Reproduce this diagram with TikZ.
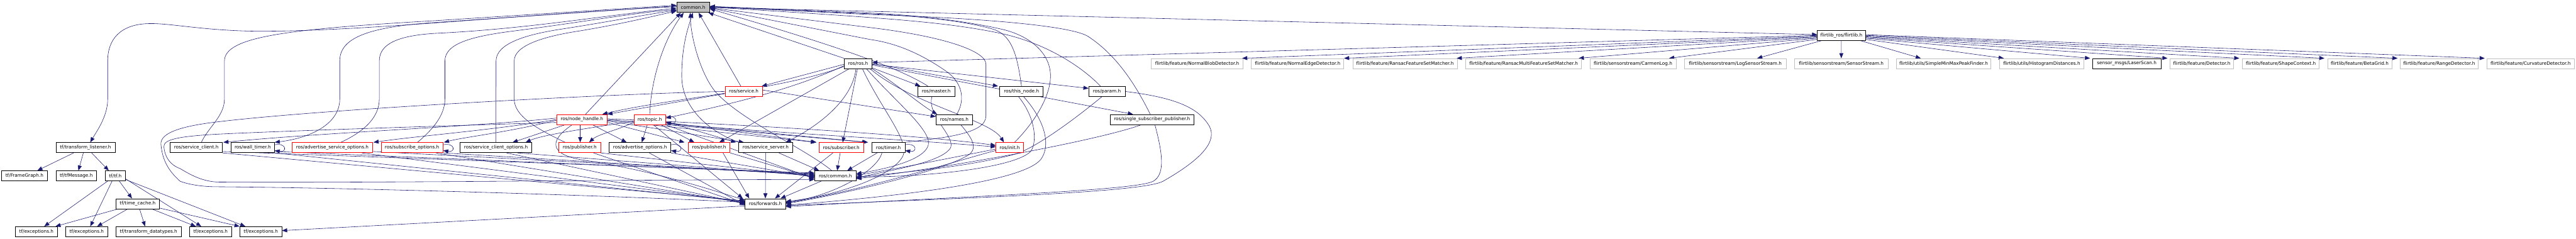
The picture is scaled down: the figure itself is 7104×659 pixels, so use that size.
\documentclass[tikz,border=0pt]{standalone}
\usepackage{fontspec}
\newfontfamily\dv{DejaVu Sans}
\usetikzlibrary{arrows.meta}
\definecolor{edgeblue}{HTML}{191970}
\definecolor{greyb}{HTML}{BFBFBF}
\definecolor{redb}{HTML}{FF0000}
\pgfdeclarelayer{edgelayer}
\pgfsetlayers{edgelayer,main}
\newcommand\lbl{\dv\fontsize{6.35pt}{7.5pt}\selectfont}
\newcommand\nd[6]{\node[#2, minimum width=#5pt] (#1) at (#3,#4) {#6};}
\tikzset{
 nb/.style={draw=black, line width=0.6pt, fill=white, inner sep=0pt, minimum height=14pt, font=\lbl, text=black},
 nr/.style={nb, draw=redb},
 ng/.style={nb, draw=greyb},
 nroot/.style={nb, fill=greyb},
 e/.style={draw=edgeblue, line width=0.5pt, -{Triangle[length=7pt,width=5.5pt]}},
}
\begin{document}
\begin{tikzpicture}[x=0.5pt,y=-0.5pt]
\useasboundingbox (0,0) rectangle (7104,659);
% ---------------- nodes
\nd{common}{nroot}{1911.5}{20.4}{45.5}{common.h}
\nd{flirtlib}{nb}{5078}{97.5}{66}{flirtlib\_ros/flirtlib.h}
\nd{rosros}{nb}{2366.5}{175.3}{38.5}{ros/ros.h}
\nd{nblob}{ng}{3301.5}{175.3}{126.5}{flirtlib/feature/NormalBlobDetector.h}
\nd{nedge}{ng}{3578.5}{175.3}{127.5}{flirtlib/feature/NormalEdgeDetector.h}
\nd{rfsm}{ng}{3874.7}{175.3}{144}{flirtlib/feature/RansacFeatureSetMatcher.h}
\nd{rmulti}{ng}{4201.7}{175.3}{159.5}{flirtlib/feature/RansacMultiFeatureSetMatcher.h}
\nd{carmen}{ng}{4503.3}{175.3}{119}{flirtlib/sensorstream/CarmenLog.h}
\nd{logss}{ng}{4785.3}{175.3}{140}{flirtlib/sensorstream/LogSensorStream.h}
\nd{sstream}{ng}{5077.8}{175.3}{128.5}{flirtlib/sensorstream/SensorStream.h}
\nd{peak}{ng}{5360}{175.3}{130.5}{flirtlib/utils/SimpleMinMaxPeakFinder.h}
\nd{hist}{ng}{5630.5}{175.3}{116}{flirtlib/utils/HistogramDistances.h}
\nd{laser}{nb}{5865}{175.3}{94.5}{sensor\_msgs/LaserScan.h}
\nd{detector}{ng}{6072}{175.3}{88}{flirtlib/feature/Detector.h}
\nd{shape}{ng}{6290}{175.3}{106}{flirtlib/feature/ShapeContext.h}
\nd{beta}{ng}{6507.3}{175.3}{88.5}{flirtlib/feature/BetaGrid.h}
\nd{range}{ng}{6726.5}{175.3}{108}{flirtlib/feature/RangeDetector.h}
\nd{curv}{ng}{6978.8}{175.3}{120}{flirtlib/feature/CurvatureDetector.h}
\nd{service}{nr}{2051}{252.2}{51.25}{ros/service.h}
\nd{master}{nb}{2582}{252.2}{51.5}{ros/master.h}
\nd{thisnode}{nb}{2817}{252.2}{60}{ros/this\_node.h}
\nd{param}{nb}{3052.5}{252.2}{50}{ros/param.h}
\nd{nh}{nr}{1604.8}{329.6}{69.8}{ros/node\_handle.h}
\nd{topic}{nr}{1791.8}{329.6}{43.8}{ros/topic.h}
\nd{names}{nb}{2631.7}{329.6}{50.7}{ros/names.h}
\nd{ssp}{nb}{3177}{329.6}{116}{ros/single\_subscriber\_publisher.h}
\nd{tl}{nb}{235.8}{407.1}{81.5}{tf/transform\_listener.h}
\nd{sclient}{nb}{541.3}{407.1}{72}{ros/service\_client.h}
\nd{wtimer}{nb}{697}{407.1}{60}{ros/wall\_timer.h}
\nd{aso}{nr}{916.5}{407.1}{111}{ros/advertise\_service\_options.h}
\nd{subo}{nr}{1136.3}{407.1}{85.5}{ros/subscribe\_options.h}
\nd{sco}{nb}{1367.7}{407.1}{98.75}{ros/service\_client\_options.h}
\nd{pubA}{nr}{1598.6}{407.1}{57.5}{ros/publisher.h}
\nd{advo}{nb}{1765}{407.1}{85}{ros/advertise\_options.h}
\nd{pubB}{nr}{1955.8}{407.1}{57.5}{ros/publisher.h}
\nd{sserver}{nb}{2111.4}{407.1}{74}{ros/service\_server.h}
\nd{subscr}{nr}{2320}{407.1}{61.5}{ros/subscriber.h}
\nd{timer}{nb}{2450}{407.1}{45.5}{ros/timer.h}
\nd{init}{nr}{2784.5}{407.1}{38}{ros/init.h}
\nd{fgraph}{nb}{67.5}{484.9}{63}{tf/FrameGraph.h}
\nd{tfmsg}{nb}{210.3}{484.9}{56}{tf/tfMessage.h}
\nd{tftf}{nb}{317.8}{484.9}{27.35}{tf/tf.h}
\nd{roscommon}{nb}{2303.8}{484.9}{57.2}{ros/common.h}
\nd{tcache}{nb}{379.6}{561.8}{60}{tf/time\_cache.h}
\nd{fwd}{nb}{2110.7}{561.8}{55.85}{ros/forwards.h}
\nd{excA}{nb}{100.4}{638.9}{58}{tf/exceptions.h}
\nd{excB}{nb}{239}{638.9}{58}{tf/exceptions.h}
\nd{tdt}{nb}{409.7}{638.9}{90}{tf/transform\_datatypes.h}
\nd{excD}{nb}{580.7}{638.9}{58}{tf/exceptions.h}
\nd{excE}{nb}{719.2}{638.9}{58}{tf/exceptions.h}
% ---------------- edges
\begin{pgfonlayer}{edgelayer}
% common out
\draw[e] (common.east) -- ([yshift=1pt]flirtlib.west);
\draw[e] ([yshift=1pt]common.west) .. controls (1450,38) and (1000,88) .. (703,86) .. controls (560,84) and (470,64) .. (413,65) .. controls (330,66) and (297,110) .. (297,168) -- (297,273) .. controls (297,320) and (268,360) .. ([xshift=6.5pt]tl.north);
% flirtlib fan
\draw[e] (flirtlib.west) -- ([yshift=1.5pt]rosros.east);
\draw[e] ([yshift=-1pt]flirtlib.west) -- ([xshift=-1.5pt]nblob.north east);
\draw[e] ([yshift=-2pt]flirtlib.west) -- (nedge.north east);
\draw[e] ([yshift=-3pt]flirtlib.west) -- ([xshift=-1pt]rfsm.north east);
\draw[e] ([yshift=-4pt]flirtlib.west) -- ([xshift=-4pt]rmulti.north east);
\draw[e] ([yshift=-5.5pt]flirtlib.west) -- ([xshift=-10pt]carmen.north east);
\draw[e] ([xshift=6pt]flirtlib.south west) -- ([xshift=-40pt]logss.north east);
\draw[e] (flirtlib.south) -- (sstream.north);
\draw[e] ([xshift=-7pt]flirtlib.south east) -- ([xshift=34pt]peak.north west);
\draw[e] ([yshift=-5.5pt]flirtlib.east) -- ([xshift=6pt]hist.north west);
\draw[e] ([yshift=-4pt]flirtlib.east) -- ([xshift=-3pt]laser.north west);
\draw[e] ([yshift=-3pt]flirtlib.east) -- ([xshift=-3pt]detector.north west);
\draw[e] ([yshift=-2pt]flirtlib.east) -- ([xshift=-4pt]shape.north west);
\draw[e] ([yshift=-1pt]flirtlib.east) -- ([xshift=-4pt]beta.north west);
\draw[e] (flirtlib.east) -- ([xshift=-3pt]range.north west);
\draw[e] ([yshift=1pt]flirtlib.east) -- ([xshift=-3pt]curv.north west);
% tf tree
\draw[e] ([xshift=-16.4pt]tl.south) -- ([xshift=17.75pt]fgraph.north);
\draw[e] ([xshift=-3pt]tl.south) -- ([xshift=3pt]tfmsg.north);
\draw[e] ([xshift=8.5pt]tl.south) -- ([xshift=-9pt]tftf.north);
\draw[e] ([xshift=-10.5pt]tftf.south) -- ([xshift=10.8pt]excA.north);
\draw[e] ([xshift=-4.4pt]tftf.south) -- ([xshift=5pt]excB.north);
\draw[e] ([xshift=5.6pt]tftf.south) -- ([xshift=-7.8pt]tcache.north);
\draw[e] ([yshift=-4pt]tftf.east) -- ([xshift=-12.85pt]excD.north);
\draw[e] ([yshift=-5pt]tftf.east) -- ([xshift=-21.35pt]excE.north);
\draw[e] ([xshift=-27.3pt]tcache.south) -- ([xshift=26.3pt]excA.north);
\draw[e] ([xshift=-13.8pt]tcache.south) -- ([xshift=14.5pt]excB.north);
\draw[e] ([xshift=2.7pt]tcache.south) -- ([xshift=-4.8pt]tdt.north);
\draw[e] ([xshift=19.7pt]tcache.south) -- ([xshift=-20.4pt]excD.north);
\draw[e] ([yshift=-6pt]tcache.east) -- (excE.north west);
\draw[e] ([yshift=-3pt]fwd.west) -- ([yshift=1.5pt]excE.east);
% self loops
\foreach \n in {wtimer,subo,advo,topic,timer}
  \draw[e] ([yshift=4pt]\n.east) .. controls +(34,-6) and +(34,6) .. ([yshift=-4pt]\n.east);
% back edges into common (left)
\draw[e] ([xshift=7pt]sclient.north) .. controls (575,350) and (619,320) .. (619,273) -- (619,168) .. controls (619,100) and (800,80) .. (1200,57) -- ([yshift=3pt]common.west);
\draw[e] ([yshift=2pt]common.west) -- (1200,62) .. controls (1000,75) and (937,110) .. (937,168) -- (937,273) .. controls (937,340) and (860,380) .. (wtimer.north east);
\draw[e] ([xshift=11.75pt]aso.north) .. controls (1010,360) and (1046,320) .. (1046,273) -- (1046,168) .. controls (1046,120) and (1100,98) .. (1200,92) .. controls (1450,80) and (1650,45) .. ([yshift=-1pt]common.west);
\draw[e] ([xshift=7.5pt]subo.north) .. controls (1190,360) and (1227,320) .. (1227,273) -- (1227,168) .. controls (1227,120) and (1300,100) .. (1420,85) .. controls (1600,62) and (1750,35) .. ([yshift=-3pt]common.west);
\draw[e] (sco.north) -- (1368,168) .. controls (1368,120) and (1450,95) .. (1550,80) .. controls (1680,60) and (1780,40) .. ([yshift=-4pt]common.west);
\draw[e] ([xshift=-20pt]pubA.north) .. controls (1480,355) and (1418,320) .. (1418,273) -- (1418,168) .. controls (1418,125) and (1500,100) .. (1600,85) .. controls (1720,65) and (1800,45) .. ([yshift=-5pt]common.west);
\draw[e] ([xshift=5pt]nh.north) -- ([xshift=6pt]common.south west);
\draw[e] (topic.north) .. controls (1795,220) and (1830,110) .. ([xshift=10pt]common.south west);
\draw[e] ([xshift=-4pt]service.north) -- ([xshift=7.5pt]common.south);
\draw[e] ([xshift=-37pt]sserver.north) .. controls (1960,365) and (1880,300) .. (1880,210) .. controls (1880,120) and (1900,70) .. ([xshift=-0.5pt]common.south);
\draw[e] ([xshift=-5pt]roscommon.north) .. controls (2220,410) and (2040,330) .. (1972,252) .. controls (1930,200) and (1905,100) .. ([xshift=-4pt]common.south);
\draw[e] (rosros.north west) -- ([xshift=-2pt]common.south east);
% back edges into common (right)
\draw[e] ([xshift=-11.5pt]master.north) .. controls (2470,180) and (2250,110) .. ([yshift=-2pt]common.east);
\draw[e] ([xshift=3.5pt]names.north) .. controls (2665,270) and (2650,225) .. (2610,197) .. controls (2550,155) and (2480,120) .. (2400,109) -- ([yshift=-1pt]common.east);
\draw[e] (thisnode.north) .. controls (2805,150) and (2790,95) .. (2737,80) .. controls (2650,55) and (2500,42) .. (2400,38) -- ([yshift=1pt]common.east);
\draw[e] ([xshift=6.75pt]init.north) .. controls (2860,330) and (2897,260) .. (2897,210) .. controls (2897,140) and (2830,95) .. (2760,80) .. controls (2650,55) and (2500,40) .. (2400,36) -- ([yshift=1.5pt]common.east);
\draw[e] (timer.north east) .. controls (2600,380) and (2719,370) .. (2719,320) -- (2719,177) .. controls (2719,140) and (2600,100) .. (2400,76) -- ([yshift=-0.5pt]common.east);
\draw[e] ([xshift=-9pt]param.north) .. controls (3000,200) and (2900,120) .. (2750,90) .. controls (2600,60) and (2450,50) .. ([yshift=0.5pt]common.east);
\draw[e] ([xshift=-2.5pt]ssp.north) .. controls (3130,230) and (3077,150) .. (3000,100) .. controls (2950,70) and (2700,50) .. (2400,40) -- ([yshift=1pt]common.east);
% ros.h out
\draw[e] ([yshift=-1pt]rosros.west) -- ([xshift=-1pt]service.north east);
\draw[e] ([yshift=-3pt]rosros.west) .. controls (2200,240) and (2050,280) .. ([yshift=2pt]topic.east);
\draw[e] ([yshift=-4pt]rosros.west) .. controls (2150,250) and (1850,270) .. ([xshift=-7pt]nh.north east);
\draw[e] ([xshift=7pt]rosros.south west) -- ([xshift=14pt]pubB.north);
\draw[e] ([xshift=-3pt]rosros.south) .. controls (2350,280) and (2250,350) .. ([xshift=28pt]sserver.north);
\draw[e] ([xshift=-1pt]rosros.south) -- ([xshift=2pt]subscr.north);
\draw[e] ([yshift=-6pt]rosros.east) -- ([xshift=4pt]master.north west);
\draw[e] (rosros.east) -- ([xshift=-2pt]thisnode.north west);
\draw[e] ([yshift=-1pt]rosros.east) -- ([yshift=-3pt]param.north west);
\draw[e] (rosros.south east) .. controls (2470,230) and (2540,290) .. ([xshift=2pt]names.north west);
\draw[e] ([yshift=-2pt]rosros.east) -- ([xshift=32pt]ssp.north west);
\draw[e] ([xshift=-3pt]rosros.south east) .. controls (2520,290) and (2730,330) .. ([xshift=-8pt]init.north);
\draw[e] ([xshift=-8pt]rosros.south east) .. controls (2470,280) and (2570,360) .. (2560,400) .. controls (2550,440) and (2450,465) .. ([yshift=3pt]roscommon.east);
\draw[e] ([xshift=6pt]rosros.south) .. controls (2430,300) and (2510,390) .. (2490,430) .. controls (2460,490) and (2300,540) .. ([yshift=3pt]fwd.east);
% service out
\draw[e] ([yshift=-3pt]service.west) -- (nh.north east);
\draw[e] ([yshift=2pt]service.east) -- ([yshift=4pt]names.west);
\draw[e] (service.west) .. controls (1700,258) and (900,300) .. (600,336) .. controls (480,350) and (440,372) .. (444,400) .. controls (448,440) and (463,470) .. (497,500) .. controls (530,512) and (570,515) .. (600,515) .. controls (1000,518) and (1700,540) .. ([yshift=2pt]fwd.west);
% node_handle out
\draw[e] ([yshift=-4pt]nh.west) .. controls (1300,345) and (800,360) .. (600,370) .. controls (490,376) and (450,385) .. (452,405) .. controls (455,435) and (470,455) .. (497,465) .. controls (530,485) and (560,500) .. (600,502) .. controls (1000,505) and (1800,495) .. ([yshift=-5pt]roscommon.west);
\draw[e] ([yshift=2pt]nh.west) .. controls (1300,350) and (900,365) .. ([xshift=1pt]sclient.north east);
\draw[e] (nh.west) .. controls (1350,360) and (1150,375) .. ([xshift=1pt]aso.north east);
\draw[e] ([yshift=-1pt]nh.west) .. controls (1400,365) and (1280,378) .. ([xshift=1pt]subo.north east);
\draw[e] ([xshift=-23.4pt]nh.south) -- ([xshift=23pt]sco.north);
\draw[e] ([xshift=-2.4pt]nh.south) -- ([xshift=0.7pt]pubA.north);
\draw[e] ([xshift=14.6pt]nh.south) -- ([xshift=-18.5pt]advo.north);
\draw[e] ([yshift=-4pt]nh.east) -- ([xshift=-5pt]pubB.north west);
\draw[e] ([yshift=-2pt]nh.east) -- ([xshift=-30pt]sserver.north);
\draw[e] ([yshift=-1pt]nh.east) -- ([xshift=-4pt]subscr.north west);
\draw[e] (nh.east) -- ([xshift=-6pt]timer.north west);
\draw[e] ([yshift=1pt]nh.east) .. controls (2200,350) and (2600,380) .. ([yshift=3pt]init.west);
\draw[e] ([xshift=-13.5pt]nh.south) .. controls (1510,390) and (1520,425) .. (1600,440) .. controls (1800,470) and (1950,520) .. ([yshift=5pt]fwd.west);
% topic out
\draw[e] ([yshift=-2pt]topic.west) .. controls (1650,350) and (1500,370) .. ([xshift=-8.7pt]sco.north east);
\draw[e] ([yshift=-4pt]topic.west) .. controls (1700,360) and (1650,370) .. ([xshift=13pt]pubA.north);
\draw[e] ([xshift=-3.4pt]topic.south) -- ([xshift=2.5pt]advo.north);
\draw[e] ([xshift=15.5pt]topic.south) -- ([xshift=8.5pt]pubB.north west);
\draw[e] ([yshift=-3pt]topic.east) -- ([xshift=-3.5pt]sserver.north west);
\draw[e] ([yshift=-4pt]topic.east) -- ([xshift=-3pt]subscr.north west);
\draw[e] ([yshift=-5pt]topic.east) -- ([xshift=-5pt]timer.north west);
\draw[e] ([yshift=-6pt]topic.east) .. controls (2200,370) and (2500,385) .. ([yshift=1pt]init.west);
\draw[e] (topic.south east) -- ([yshift=-4pt]roscommon.west);
\draw[e] ([xshift=5pt]topic.south) .. controls (1870,400) and (1990,500) .. ([xshift=-3pt]fwd.north west);
% left row -> ros/common.h and ros/forwards.h
\draw[e] ([yshift=2pt]sclient.south east) -- ([yshift=4pt]roscommon.west);
\draw[e] (sclient.south east) -- ([yshift=4pt]fwd.west);
\draw[e] ([yshift=2pt]wtimer.south east) -- ([yshift=3pt]roscommon.west);
\draw[e] (wtimer.south east) -- ([yshift=3pt]fwd.west);
\draw[e] ([yshift=2pt]aso.south east) -- ([yshift=2pt]roscommon.west);
\draw[e] ([xshift=-15pt]aso.south east) -- ([yshift=2.5pt]fwd.west);
\draw[e] (subo.south east) -- ([yshift=1pt]roscommon.west);
\draw[e] ([xshift=-10pt]subo.south east) -- ([yshift=1pt]fwd.west);
\draw[e] ([xshift=-20pt]sco.south east) -- (roscommon.west);
\draw[e] ([xshift=-35pt]sco.south east) -- (fwd.west);
\draw[e] (pubA.south east) -- ([yshift=-1pt]roscommon.west);
\draw[e] ([xshift=-10pt]pubA.south east) -- ([yshift=-1pt]fwd.west);
\draw[e] (advo.south east) -- ([yshift=-2pt]roscommon.west);
\draw[e] ([xshift=-30pt]advo.south east) -- ([yshift=-2pt]fwd.west);
\draw[e] (pubB.south east) -- ([yshift=-3pt]roscommon.west);
\draw[e] ([xshift=-10pt]pubB.south east) -- ([xshift=6pt]fwd.north west);
% right nodes -> ros/common.h and ros/forwards.h
\draw[e] (sserver.south) -- (fwd.north);
\draw[e] ([xshift=18.3pt]sserver.south) -- ([xshift=-22.5pt]roscommon.north);
\draw[e] ([xshift=-1.5pt]subscr.south) -- ([xshift=2.5pt]roscommon.north);
\draw[e] ([xshift=-11.5pt]subscr.south) -- ([xshift=-15pt]fwd.north east);
\draw[e] ([xshift=-19.5pt]roscommon.south) -- ([xshift=-7.3pt]fwd.north east);
\draw[e] ([xshift=-15.5pt]timer.south) -- ([xshift=-12.5pt]roscommon.north east);
\draw[e] ([xshift=-9pt]timer.south) .. controls (2420,470) and (2300,540) .. ([yshift=2pt]fwd.east);
\draw[e] ([yshift=-2pt]init.west) .. controls (2650,430) and (2450,470) .. ([yshift=1pt]roscommon.east);
\draw[e] ([yshift=-4pt]init.west) .. controls (2650,440) and (2400,520) .. ([yshift=1pt]fwd.east);
\draw[e] ([xshift=-4pt]thisnode.south) .. controls (2860,330) and (2860,400) .. (2840,420) .. controls (2780,470) and (2500,490) .. ([yshift=-1pt]roscommon.east);
\draw[e] ([xshift=3pt]thisnode.south) .. controls (2880,330) and (2900,400) .. (2870,440) .. controls (2820,500) and (2500,540) .. ([yshift=-2pt]fwd.east);
\draw[e] ([xshift=9pt]names.south) .. controls (2680,380) and (2700,410) .. (2668,429) .. controls (2600,470) and (2350,530) .. (fwd.east);
\draw[e] ([xshift=-6pt]master.south) .. controls (2555,320) and (2640,380) .. (2620,410) .. controls (2590,450) and (2450,470) .. ([yshift=-3pt]roscommon.east);
\draw[e] ([xshift=-7pt]param.south) .. controls (2950,340) and (2850,410) .. (2800,425) .. controls (2650,465) and (2450,478) .. ([yshift=-2pt]roscommon.east);
\draw[e] (param.east) .. controls (3250,270) and (3302,300) .. (3330,340) .. controls (3360,380) and (3330,430) .. (3207,500) .. controls (3150,530) and (2700,545) .. ([yshift=-2.5pt]fwd.east);
\draw[e] ([xshift=-15pt]ssp.south) .. controls (3050,380) and (2700,450) .. ([yshift=-4pt]roscommon.east);
\draw[e] ([xshift=4pt]ssp.south) .. controls (3205,420) and (3215,480) .. (3180,500) .. controls (3130,525) and (2700,540) .. ([yshift=-4pt]fwd.east);
\end{pgfonlayer}
\end{tikzpicture}
\end{document}
